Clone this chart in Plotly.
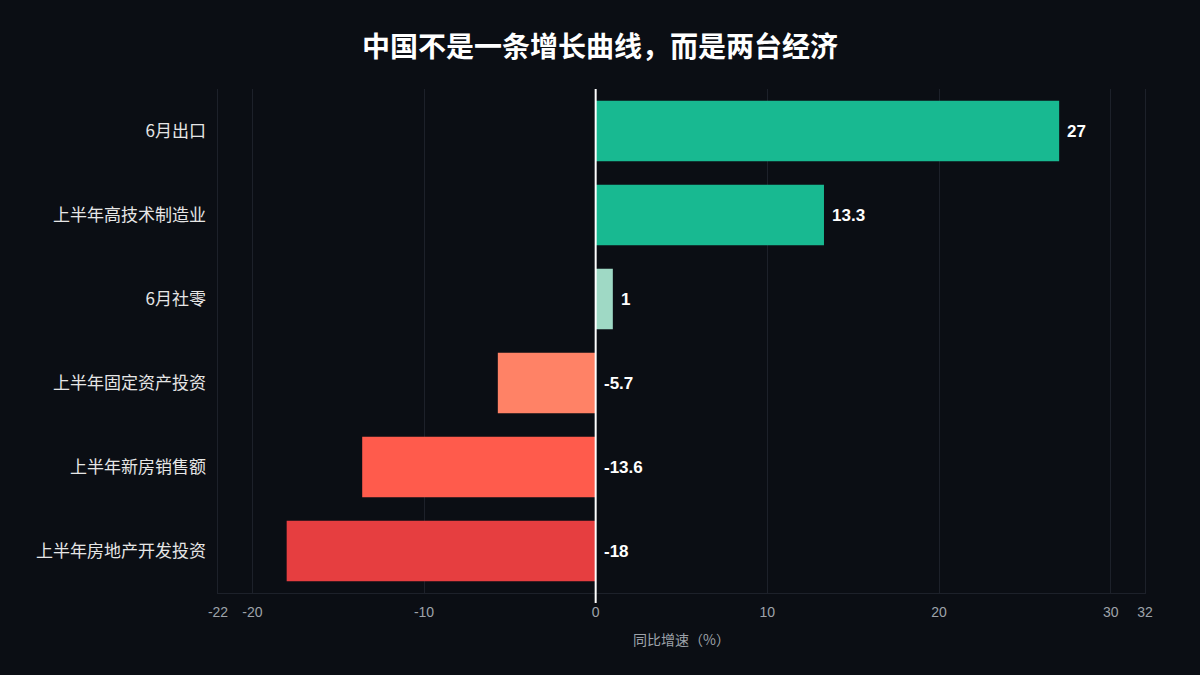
import plotly.graph_objects as go

# 指标与同比增速（%）
categories = ["6月出口", "上半年高技术制造业", "6月社零",
              "上半年固定资产投资", "上半年新房销售额", "上半年房地产开发投资"]
values = [27, 13.3, 1, -5.7, -13.6, -18]
bar_colors = ["#18b991", "#18b991", "#9fd9c5", "#ff8266", "#ff5b4c", "#e63e40"]
xticks = [-22, -20, -10, 0, 10, 20, 30, 32]

bg = "#0b0e14"
grid = "#1d212a"
font_fam = "Liberation Sans, Noto Sans CJK SC, sans-serif"

fig = go.Figure()
fig.add_trace(go.Bar(
    x=values,
    y=categories,
    orientation="h",
    marker=dict(color=bar_colors, line=dict(width=0)),
    hoverinfo="x+y",
))

# 数值标签：正值在柱端右侧，负值贴在零线右侧
for c, v in zip(categories, values):
    fig.add_annotation(
        x=max(v, 0), y=c, text="<b>%s</b>" % (f"{v:g}"),
        xanchor="left", xshift=6, showarrow=False,
        font=dict(size=17, color="#ffffff", family=font_fam),
    )

# 零线
fig.add_shape(type="line", xref="x", yref="paper", x0=0, x1=0, y0=-0.02, y1=1,
              line=dict(color="#ffffff", width=2))

fig.update_layout(
    width=1200, height=675,
    paper_bgcolor=bg, plot_bgcolor=bg,
    font=dict(family=font_fam, color="#e6e6e6"),
    title=dict(text="<b>中国不是一条增长曲线，而是两台经济</b>",
               x=0.5, xanchor="center", y=0.93, yanchor="middle",
               font=dict(size=28, color="#ffffff",
                         family="Noto Sans CJK SC, sans-serif")),
    margin=dict(l=218, r=55, t=89, b=82),
    bargap=0.28,
    showlegend=False,
    xaxis=dict(
        range=[-22, 32], tickvals=xticks, ticktext=[str(t) for t in xticks],
        showgrid=True, gridcolor=grid, gridwidth=1,
        zeroline=False, showline=True, linecolor=grid, linewidth=1,
        ticklabelstandoff=6,
        tickfont=dict(size=14, color="#9ea3aa"),
        title=dict(text="同比增速（%）", standoff=16,
                   font=dict(size=14, color="#9ea3aa",
                             family="Noto Sans CJK SC, sans-serif")),
    ),
    yaxis=dict(
        autorange="reversed", showgrid=False, zeroline=False,
        showline=True, mirror=True, linecolor=grid, linewidth=1,
        ticksuffix="  ",
        tickfont=dict(size=17, color="#e6e6e6",
                      family="Noto Sans CJK SC, sans-serif"),
    ),
)

fig.write_html("out.html", config={"displayModeBar": False},
               post_script="document.body.style.margin='0';")
